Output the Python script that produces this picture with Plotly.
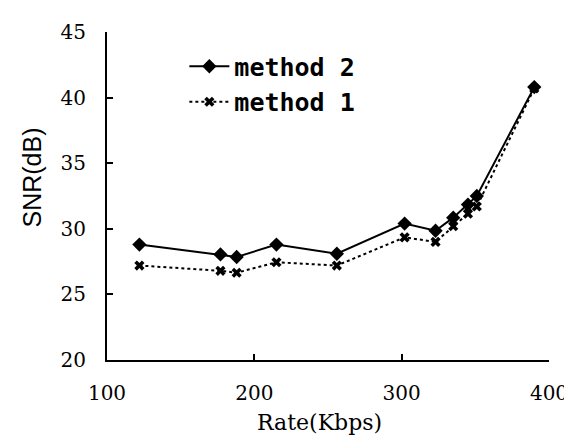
import plotly.graph_objects as go

rate = [122, 177, 188, 215, 256, 302, 323, 335, 345, 351, 390]
method2 = [28.8, 28.05, 27.85, 28.8, 28.1, 30.4, 29.85, 30.85, 31.85, 32.5, 40.8]
method1 = [27.2, 26.8, 26.65, 27.45, 27.2, 29.35, 29.0, 30.2, 31.15, 31.7, 40.7]
x_ticks = [100, 200, 300, 400]
y_ticks = [20, 25, 30, 35, 40, 45]

fig = go.Figure()
fig.add_trace(go.Scatter(
    x=rate, y=method2, name="method 2", mode="lines+markers",
    line=dict(color="black", width=2),
    marker=dict(symbol="diamond", size=11, color="black"),
))
fig.add_trace(go.Scatter(
    x=rate, y=method1, name="method 1", mode="lines+markers",
    line=dict(color="black", width=2, dash="dot"),
    marker=dict(symbol="x", size=9, color="black"),
))

fig.update_layout(
    width=572, height=439,
    margin=dict(l=99, r=23, t=19, b=87),
    paper_bgcolor="white", plot_bgcolor="white",
    showlegend=True,
    legend=dict(
        x=0.175, y=0.965, xanchor="left", yanchor="top",
        bgcolor="rgba(0,0,0,0)",
        font=dict(family="DejaVu Sans Mono", size=25, color="black", weight="bold"),
        tracegroupgap=0, itemwidth=40,
    ),
    xaxis=dict(
        range=[100, 400], tickvals=x_ticks, ticktext=[str(v) for v in x_ticks],
        showgrid=False, zeroline=False, showline=True, linecolor="black", linewidth=2,
        ticks="inside", ticklen=6, tickcolor="black", tickwidth=1.5,
        ticklabelstandoff=14,
        tickfont=dict(family="DejaVu Serif, serif", size=20, color="black"),
    ),
    yaxis=dict(
        range=[20, 45], tickvals=y_ticks, ticktext=[str(v) for v in y_ticks],
        showgrid=False, zeroline=False, showline=True, linecolor="black", linewidth=2,
        ticks="inside", ticklen=6, tickcolor="black", tickwidth=1.5,
        ticklabelstandoff=15,
        tickfont=dict(family="DejaVu Serif, serif", size=20, color="black"),
    ),
    annotations=[
        dict(text="Rate(Kbps)", xref="paper", yref="paper", x=0.48, y=-0.19,
             xanchor="center", yanchor="middle", showarrow=False,
             font=dict(family="DejaVu Serif, serif", size=22, color="black")),
        dict(text="SNR(dB)", xref="paper", yref="paper", x=-0.17, y=0.556,
             xanchor="center", yanchor="middle", showarrow=False, textangle=-90,
             font=dict(family="Liberation Sans", size=25, color="black")),
    ],
)

fig.write_html("out.html")
